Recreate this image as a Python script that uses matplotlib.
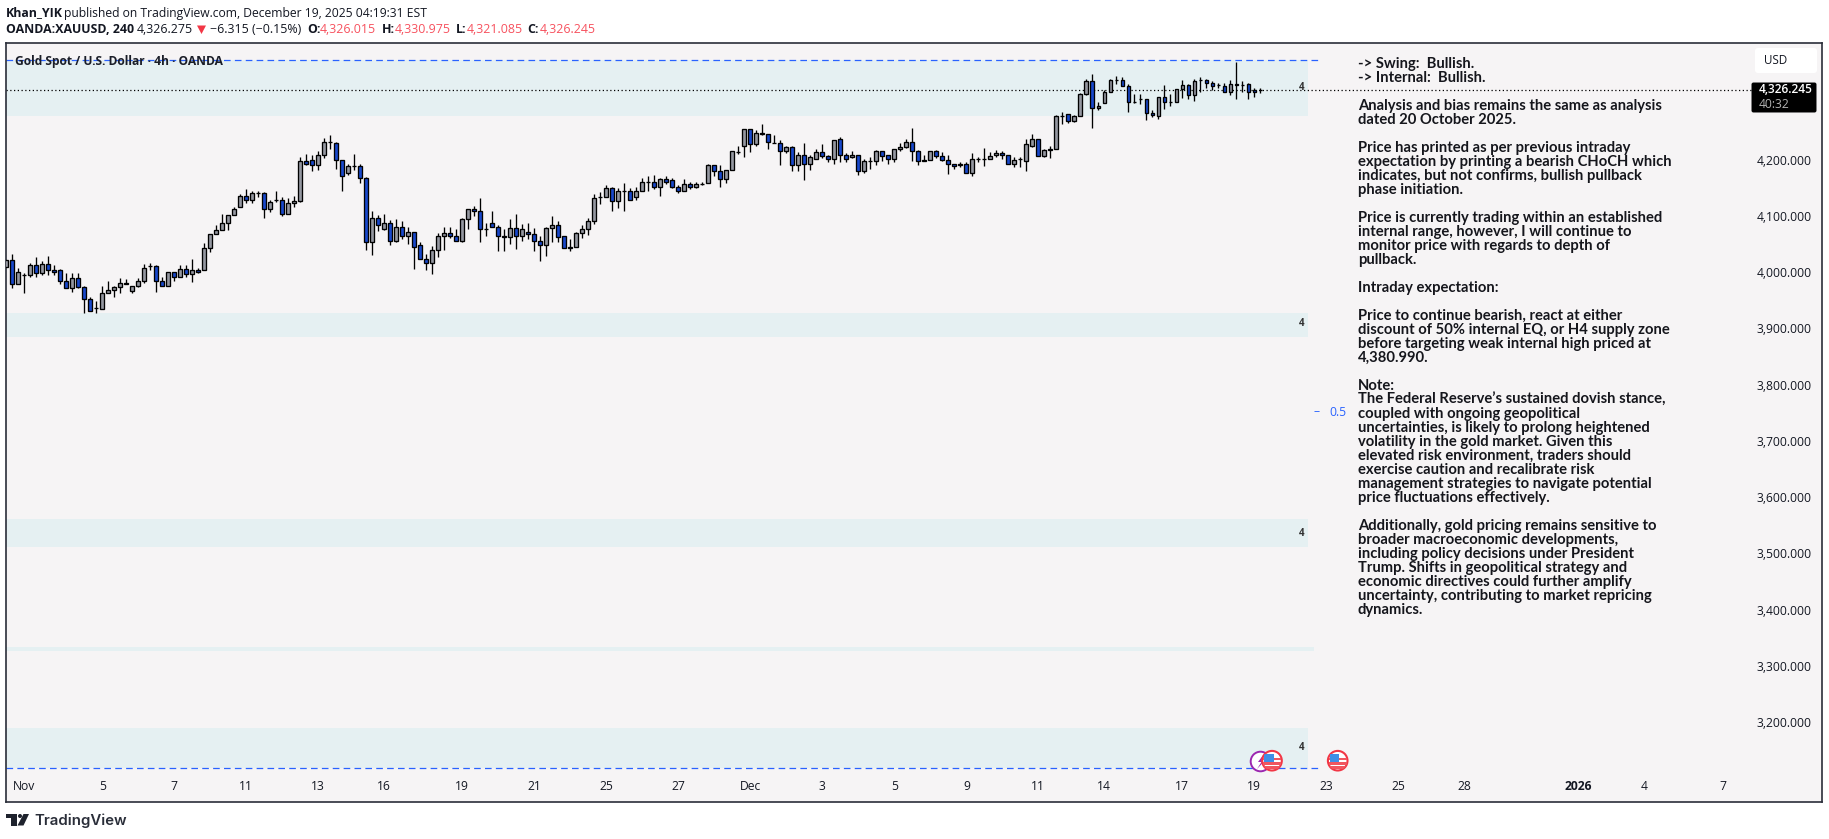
import matplotlib
matplotlib.use("Agg")
import matplotlib.pyplot as plt
from matplotlib.patches import Rectangle, Circle, Polygon, FancyBboxPatch
from matplotlib.transforms import ScaledTranslation

# ---- data -----------------------------------------------------------------
opens = [4012,4024,3981,3997,3997,4015,4001,4017,4006,4006,3988,3974,3992,3976,3955,3939,3937,3965,3972,3976,3983,3969,3978,3988,4013,4013,3987,3979,4003,3995,4008,3999,4006,4006,4045,4070,4077,4091,4104,4118,4138,4132,4143,4143,4115,4132,4132,4106,4125,4129,4200,4203,4193,4212,4234,4232,4203,4179,4191,4191,4170,4056,4100,4079,4091,4059,
         4083,4067,4074,4051,4026,4020,4042,4067,4072,4068,4059,4097,4115,4111,4079,4090,4083,4067,4065,4081,4067,4074,4070,4059,4051,4081,4086,4068,4047,4047,4072,4079,4093,4136,4136,4152,4129,4148,4147,4136,4148,4164,4164,4154,4168,4166,4155,4148,4159,4155,4159,4161,4193,4182,4168,4184,4217,4227,4257,4230,4251,4248,4233,4232,4219,4225,4193,
         4212,4195,4204,4216,4209,4204,4239,4212,4207,4211,4182,4200,4200,4218,4211,4204,4221,4225,4235,4218,4202,4202,4218,4209,4202,4196,4193,4196,4180,4204,4204,4204,4211,4214,4212,4195,4204,4200,4228,4239,4209,4221,4221,4280,4284,4271,
         4280,4319,4342,4294,4303,4323,4344,4344,4333,4305,4310,4310,4285,4280,4314,4305,4305,4328,4335,4317,4344,4344,4340,4335,4333,4324,4337,4336,4337,4326,4326]
highs = [4024,4036,4011,4002,4019,4029,4022,4032,4015,4008,4001,4001,4001,3978,3958,3951,3979,3988,3979,3992,3990,3978,3992,4017,4020,4015,3995,4003,4004,4015,4015,4027,4010,4054,4070,4086,4107,4104,4118,4141,4150,4147,4148,4145,4132,4147,4136,4134,4139,4207,4213,4211,4219,4241,4247,4234,4203,4195,4213,4195,4172,4111,4104,4107,4095,4097,
         4093,4083,4074,4056,4036,4049,4072,4083,4083,4079,4099,4116,4120,4134,4091,4111,4086,4079,4097,4107,4088,4090,4081,4067,4083,4102,4093,4068,4061,4075,4086,4100,4141,4145,4157,4154,4152,4161,4152,4154,4170,4173,4175,4170,4173,4170,4157,4168,4163,4163,4163,4195,4193,4193,4184,4218,4228,4257,4257,4255,4266,4248,4246,4237,4227,4227,4216,
         4232,4212,4221,4230,4212,4237,4243,4214,4218,4211,4204,4207,4220,4218,4211,4221,4232,4239,4260,4220,4212,4218,4220,4216,4212,4196,4198,4198,4214,4208,4223,4216,4220,4218,4212,4207,4207,4239,4248,4239,4221,4227,4282,4287,4284,4282,
         4321,4347,4355,4305,4326,4346,4351,4349,4337,4319,4319,4310,4291,4314,4335,4319,4328,4344,4337,4346,4349,4347,4342,4340,4339,4344,4376,4342,4339,4330,4331]
lows = [4012,3974,3981,3965,3994,3995,3997,3997,3997,3981,3974,3968,3974,3931,3933,3931,3937,3965,3958,3966,3981,3966,3976,3984,4006,3968,3978,3979,3988,3995,3994,3986,4001,4006,4039,4070,4077,4077,4104,4118,4126,4126,4136,4100,4109,4128,4102,4106,4119,4127,4193,4182,4185,4205,4221,4187,4148,4176,4185,4161,4043,4034,4076,4077,4052,4057,
        4062,4053,4008,4026,4007,3999,4030,4042,4064,4059,4057,4080,4103,4057,4067,4083,4040,4040,4053,4044,4058,4062,4040,4023,4032,4057,4056,4045,4040,4047,4064,4069,4089,4124,4136,4112,4117,4112,4131,4132,4148,4148,4150,4138,4160,4152,4144,4148,4151,4152,4157,4161,4173,4155,4162,4184,4213,4208,4217,4228,4246,4221,4232,4194,4215,4183,4183,
        4166,4185,4204,4205,4199,4196,4198,4198,4205,4176,4180,4187,4194,4201,4196,4199,4218,4223,4201,4194,4200,4202,4205,4200,4178,4187,4190,4180,4173,4198,4192,4204,4207,4204,4195,4190,4190,4183,4225,4209,4207,4206,4221,4266,4268,4269,
        4280,4317,4260,4291,4303,4323,4337,4333,4288,4303,4301,4274,4278,4276,4293,4299,4305,4312,4310,4308,4323,4331,4326,4331,4323,4317,4311,4324,4311,4315,4321]
closes = [4024,3981,4003,3997,4015,4001,4017,4006,4003,3988,3974,3992,3976,3956,3933,3939,3965,3972,3976,3983,3981,3978,3988,4011,4013,3987,3978,4003,3995,4008,3999,4006,4003,4045,4070,4077,4091,4104,4116,4138,4132,4143,4143,4115,4127,4132,4106,4125,4129,4200,4196,4193,4212,4234,4234,4203,4173,4191,4191,4170,4056,4100,4086,4091,4059,4083,
          4067,4074,4047,4026,4020,4042,4067,4072,4068,4059,4097,4115,4111,4079,4079,4083,4067,4065,4081,4067,4079,4070,4059,4051,4081,4086,4065,4045,4045,4072,4079,4093,4134,4136,4152,4129,4148,4148,4131,4148,4163,4164,4154,4168,4164,4155,4148,4159,4155,4159,4159,4193,4182,4168,4184,4218,4217,4257,4230,4251,4248,4234,4233,4219,4225,4193,4212,
          4195,4207,4216,4209,4204,4237,4212,4204,4211,4182,4200,4200,4218,4209,4204,4221,4225,4235,4218,4200,4200,4218,4209,4202,4196,4191,4196,4180,4204,4204,4204,4209,4214,4212,4195,4202,4204,4230,4239,4209,4220,4220,4280,4280,4271,4280,
          4319,4342,4294,4299,4323,4344,4344,4333,4305,4305,4310,4285,4282,4314,4305,4305,4328,4335,4317,4342,4344,4339,4333,4335,4324,4337,4336,4336,4324,4324,4326.245]

price_ticks = [4200,4100,4000,3900,3800,3700,3600,3500,3400,3300,3200]
price_tick_labels = ["4,200.000","4,100.000","4,000.000","3,900.000","3,800.000","3,700.000",
                     "3,600.000","3,500.000","3,400.000","3,300.000","3,200.000"]
date_ticks = [3,16,28,40,52,63,76,88,100,112,124,136,148,160,172,183,196,208,220,232,243,262,273,286]
date_labels = ["Nov","5","7","11","13","16","19","21","25","27","Dec","3","5","9","11","14","17","19","23","25","28","2026","4","7"]

zone_low = [4280.5,3887.6,3514,3329,3122]
zone_high = [4380,3930.8,3564,3337,3192]
fib_top = 4380.99
fib_bottom = 3121
fib_mid = 3751
last_price = 4326.245

note_lines = [
"-> Swing:  Bullish.","-> Internal:  Bullish.","",
"Analysis and bias remains the same as analysis","dated 20 October 2025.","",
"Price has printed as per previous intraday","expectation by printing a bearish CHoCH which",
"indicates, but not confirms, bullish pullback","phase initiation.","",
"Price is currently trading within an established","internal range, however, I will continue to",
"monitor price with regards to depth of","pullback.","",
"Intraday expectation:","",
"Price to continue bearish, react at either","discount of 50% internal EQ, or H4 supply zone",
"before targeting weak internal high priced at","4,380.990.","",
"Note:","The Federal Reserve\u2019s sustained dovish stance,","coupled with ongoing geopolitical",
"uncertainties, is likely to prolong heightened","volatility in the gold market. Given this",
"elevated risk environment, traders should","exercise caution and recalibrate risk",
"management strategies to navigate potential","price fluctuations effectively.","",
"Additionally, gold pricing remains sensitive to","broader macroeconomic developments,",
"including policy decisions under President","Trump. Shifts in geopolitical strategy and",
"economic directives could further amplify","uncertainty, contributing to market repricing","dynamics."]

# ---- figure ---------------------------------------------------------------
W, H = 1829, 839
DARK = "#131722"
RED = "#f7525f"
BLUE = "#2962ff"
ZONE = "#e5f0f2"
plt.rcParams["font.family"] = ["Open Sans", "DejaVu Sans"]
fig = plt.figure(figsize=(W/100, H/100), dpi=100, facecolor="white")
L, R, Tp, B = 6, 1822, 43.3, 802
ax = fig.add_axes([L/W, 1-B/H, (R-L)/W, (B-Tp)/H], facecolor="#f6f4f5")
ax.set_xlim(-0.05, 302.6)
ax.set_ylim(3060.8, 4409.8)
for s in ax.spines.values():
    s.set_color("#2a2e39"); s.set_linewidth(1.2)

# zones and lines
for i, (lo, hi) in enumerate(zip(zone_low, zone_high)):
    end = 218 if i == 3 else 217
    ax.add_patch(Rectangle((-0.05, lo), end+0.05, hi-lo, fc=ZONE, ec="none", zorder=1))
ax.plot([-0.05, 219], [fib_top]*2, color=BLUE, lw=0.9, dashes=(5.3, 3.4), zorder=2)
ax.plot([-0.05, 219], [fib_bottom]*2, color=BLUE, lw=0.9, dashes=(5.3, 3.4), zorder=2)
ax.plot([-0.05, 290.7], [last_price]*2, color="black", lw=0.9, dashes=(1, 2), zorder=2)

# candles
n = len(opens)
x = list(range(n))
bottoms = [min(o, c) for o, c in zip(opens, closes)]
heights = [abs(o-c) for o, c in zip(opens, closes)]
cols = ["#9598a1" if c >= o else "#1848cc" for o, c in zip(opens, closes)]
ax.vlines(x, lows, highs, color="black", lw=0.95, zorder=3)
ax.bar(x, heights, 0.62, bottoms, color=cols, edgecolor="black", linewidth=0.95, zorder=4)

# axes ticks
ax.set_yticks(price_ticks)
ax.set_yticklabels(price_tick_labels)
ax.yaxis.tick_right()
ax.tick_params(axis="y", length=0, pad=-7.4, labelsize=8.7, labelcolor=DARK)
for t in ax.get_yticklabels():
    t.set_ha("right")
ax.yaxis.set_tick_params(which="major")
up = ScaledTranslation(0, 1.7/100, fig.dpi_scale_trans)
for tick in ax.yaxis.get_major_ticks():
    tick.label2.set_transform(tick.label2.get_transform() + up)
ax.set_xticks(date_ticks)
ax.set_xticklabels(date_labels)
ax.tick_params(axis="x", length=0, pad=-15.5, labelsize=8.7, labelcolor=DARK)
for t in ax.get_xticklabels():
    if t.get_text() == "2026":
        t.set_fontweight("bold")

# overlay in pixel coordinates for annotations
ov = fig.add_axes([0, 0, 1, 1], facecolor="none")
ov.set_xlim(0, W); ov.set_ylim(H, 0); ov.axis("off")

def txt(px, py, s, size=8.7, color=DARK, weight="normal", ha="left", family=None, zorder=10):
    kw = {"family": family} if family else {}
    ov.text(px, py, s, fontsize=size, color=color, fontweight=weight, ha=ha, va="center", zorder=zorder, **kw)

# header
txt(6, 13, "Khan_YIK", weight="bold", size=8.9)
txt(64, 13, "published on TradingView.com, December 19, 2025 04:19:31 EST", size=8.75)
txt(6, 29.5, "OANDA:XAUUSD, 240", weight="bold", size=8.9)
txt(137, 29.5, "4,326.275", size=8.9)
ov.add_patch(Polygon([[197, 25.5], [206, 25.5], [201.5, 34]], fc="#f23645", ec="none"))
txt(210, 29.5, "\u22126.315 (\u22120.15%)", size=8.9)
for lab, lx, val, vx in [("O:", 307, "4,326.015", 320), ("H:", 382, "4,330.975", 395),
                         ("L:", 456, "4,321.085", 467), ("C:", 527, "4,326.245", 540)]:
    txt(lx, 29.5, lab, weight="bold", size=8.9)
    txt(vx, 29.5, val, color=RED, size=8.9)

# chart title
txt(15, 61, "Gold Spot / U.S. Dollar \u00b7 4h \u00b7 OANDA", weight="bold", size=8.65, color="#1b1e28")

# zone labels
for zy in [87.5, 324, 533, 748]:
    txt(1302, zy, "4", size=7, color="#333333", weight="bold", ha="center")
txt(1314, 412, "\u2013", size=8.7, color=BLUE)
txt(1329, 412, "0.5", size=8.7, color=BLUE)

# note text
for i, line in enumerate(note_lines):
    if line:
        txt(1358, 64 + 14*i, line, size=10.65, color="#15161c", weight="bold", family="Lato")

# price label and USD button
ov.add_patch(FancyBboxPatch((1752, 83), 64, 29, boxstyle="round,pad=0,rounding_size=1.5", fc="black", ec="black", lw=0.7, zorder=8))
txt(1759, 89.5, "4,326.245", color="white", weight="semibold", size=8.6)
txt(1759, 104, "40:32", color="#b2b2b2", size=8.7)
ov.add_patch(FancyBboxPatch((1755, 48), 62, 25, boxstyle="round,pad=0,rounding_size=3", fc="white", ec="none", zorder=8))
txt(1764, 61, "USD", size=8.4)

# event markers
def flag(cx, cy, z):
    c = Circle((cx, cy), 9.8, fc="white", ec="#f23645", lw=1.5, zorder=z)
    ov.add_patch(c)
    for sy in [-3.0, 1.5, 5.5]:
        r = Rectangle((cx-9, cy+sy), 18, 2.6, fc="#f0565f", ec="none", zorder=z+0.1)
        ov.add_patch(r); r.set_clip_path(c)
    r = Rectangle((cx-8, cy-7), 9.5, 8, fc="#3f8fe6", ec="none", zorder=z+0.2)
    ov.add_patch(r); r.set_clip_path(c)

ov.add_patch(Circle((1260.5, 761.5), 9.8, fc="white", ec="#9c27b0", lw=1.4, zorder=8))
ov.add_patch(Polygon([[1264, 754], [1258, 762], [1261.5, 762], [1257, 769], [1265, 760.5], [1261.5, 760.5]], fc="#9c27b0", ec="none", zorder=8.1))
flag(1272, 760.7, 9)
flag(1337.7, 760.7, 9)

# TradingView logo
LOGO = "#1e222d"
ov.add_patch(Polygon([[6, 814], [17, 814], [17, 825.5], [10.5, 825.5], [10.5, 818], [6, 818]], fc=LOGO, ec="none"))
ov.add_patch(Circle((20, 816), 2.0, fc=LOGO, ec="none"))
ov.add_patch(Polygon([[23.5, 814], [29, 814], [23.5, 825.5], [17.5, 825.5]], fc=LOGO, ec="none"))
txt(34, 820.5, "TradingView", size=10.8, color="#2a2e39", weight="semibold", family="Inter")

fig.savefig("out.png", dpi=100, facecolor="white")
